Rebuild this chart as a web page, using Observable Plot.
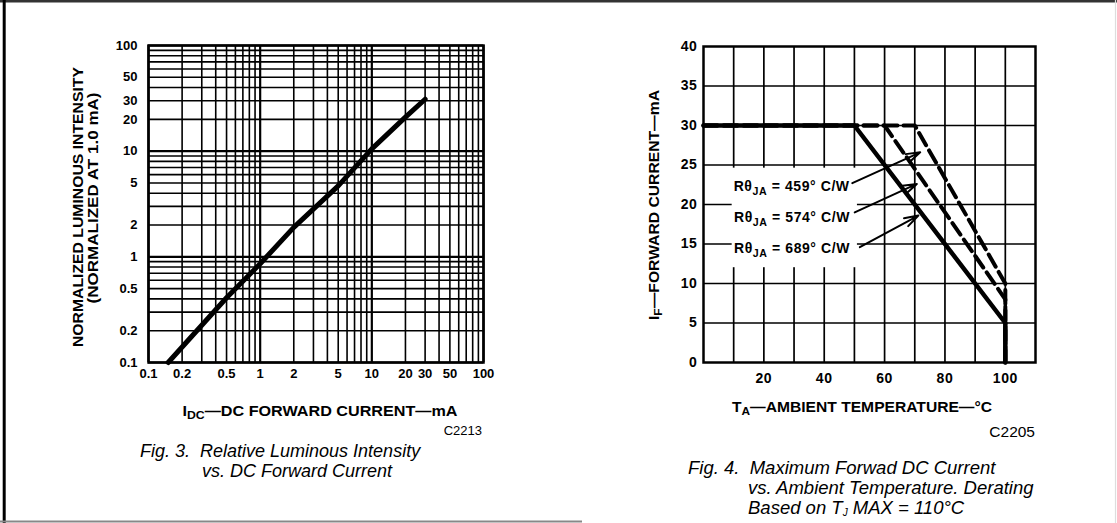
<!DOCTYPE html>
<html><head><meta charset="utf-8">
<script src="https://cdn.jsdelivr.net/npm/d3@7"></script>
<script src="https://cdn.jsdelivr.net/npm/@observablehq/plot@0.6"></script>
<style>
body{margin:0;background:#fff;}
#page{position:relative;width:1117px;height:523px;overflow:hidden;background:#fff;font-family:"Liberation Sans",Arial,sans-serif;}
#page > svg{position:absolute;max-width:none;}
</style></head><body><div id="page"></div>
<script>
// ---------- Fig. 3 data ----------
const fig3Current   = [0.15, 0.5, 1, 2, 5, 10, 20, 30];
const fig3Intensity = [0.1, 0.41, 0.86, 1.9, 4.7, 10.5, 21, 31];
const fig3Ticks     = [0.1, 0.2, 0.5, 1, 2, 5, 10, 20, 30, 50, 100];
const fig3Decades   = [0.1, 1, 10, 100];
const fig3Minor     = [0.2,0.3,0.4,0.5,0.6,0.7,0.8,0.9, 2,3,4,5,6,7,8,9, 20,30,40,50,60,70,80,90];

// ---------- Fig. 4 data ----------
const fig4TempSolid = [0, 50, 100, 100];
const fig4CurrSolid = [30, 30, 5, 0];
const fig4Temp574   = [0, 60, 100, 100];
const fig4Curr574   = [30, 30, 8, 0];
const fig4Temp459   = [0, 70, 100, 100];
const fig4Curr459   = [30, 30, 10, 0];
const fig4XTicks    = [20, 40, 60, 80, 100];
const fig4YTicks    = [0, 5, 10, 15, 20, 25, 30, 35, 40];
const fig4GridX     = [10, 20, 30, 40, 50, 60, 70, 80, 90, 100];
const fig4GridY     = [5, 10, 15, 20, 25, 30, 35];
const fig4Labels    = ["459", "574", "689"];
const fig4LabelX    = [48.6, 48.7, 48.7];
const fig4LabelY    = [22.35, 18.4, 14.4];
const fig4ArrowX1   = [49.3, 50.1, 51.8];
const fig4ArrowY1   = [22.7, 19.0, 14.6];
const fig4ArrowX2   = [71.8, 70.7, 71.2];
const fig4ArrowY2   = [26.6, 22.6, 18.6];
const fig4Box       = {x1: 9.5, x2: 51, y1: 12, y2: 24.6};

const page = document.getElementById("page");
const FONT = "'Liberation Sans', Arial, sans-serif";

// ---------- Fig. 3 ----------
const fig3Data = fig3Current.map((c, i) => ({c, v: fig3Intensity[i]}));
const fig3 = Plot.plot({
  width: 520, height: 395,
  marginLeft: 148, marginRight: 37, marginTop: 45, marginBottom: 33,
  style: {fontFamily: FONT, color: "black", background: "transparent"},
  x: {type: "log", domain: [0.1, 100], axis: null},
  y: {type: "log", domain: [0.1, 100], axis: null},
  marks: [
    Plot.ruleX(fig3Minor, {stroke: "black", strokeWidth: 1.6}),
    Plot.ruleY(fig3Minor, {stroke: "black", strokeWidth: 1.6}),
    Plot.ruleX(fig3Decades, {stroke: "black", strokeWidth: 2.2}),
    Plot.ruleY(fig3Decades, {stroke: "black", strokeWidth: 2.2}),
    Plot.line(fig3Data, {x: "c", y: "v", stroke: "black", strokeWidth: 5}),
    Plot.frame({stroke: "black", strokeWidth: 2.5}),
    Plot.text(fig3Ticks, {x: d => d, text: d => String(d), frameAnchor: "bottom", lineAnchor: "top", dy: 6,
      fontSize: 13, fontWeight: "bold", fill: "black"}),
    Plot.text(fig3Ticks, {y: d => d, text: d => String(d), frameAnchor: "left", textAnchor: "end", dx: -11,
      fontSize: 13, fontWeight: "bold", fill: "black"})
  ]
});
fig3.style.left = "0px"; fig3.style.top = "0px";
page.appendChild(fig3);

// ---------- Fig. 4 ----------
const mk = (xs, ys) => xs.map((t, i) => ({t, c: ys[i]}));
const arrows = fig4Labels.map((l, i) => ({x1: fig4ArrowX1[i], y1: fig4ArrowY1[i], x2: fig4ArrowX2[i], y2: fig4ArrowY2[i]}));
const fig4 = Plot.plot({
  width: 500, height: 395,
  marginLeft: 143, marginRight: 25, marginTop: 46, marginBottom: 33,
  style: {fontFamily: FONT, color: "black", background: "transparent", letterSpacing: "0.6px"},
  x: {domain: [0, 110], axis: null},
  y: {domain: [0, 40], axis: null},
  marks: [
    Plot.ruleX(fig4GridX, {stroke: "black", strokeWidth: 1.7}),
    Plot.ruleY(fig4GridY, {stroke: "black", strokeWidth: 1.7}),
    Plot.rect([fig4Box], {x1: "x1", x2: "x2", y1: "y1", y2: "y2", fill: "white"}),
    Plot.line(mk(fig4Temp459, fig4Curr459), {x: "t", y: "c", stroke: "black", strokeWidth: 4, strokeDasharray: "14,6"}),
    Plot.line(mk(fig4Temp574, fig4Curr574), {x: "t", y: "c", stroke: "black", strokeWidth: 4, strokeDasharray: "14,6"}),
    Plot.line(mk(fig4TempSolid, fig4CurrSolid), {x: "t", y: "c", stroke: "black", strokeWidth: 4.5}),
    Plot.arrow(arrows, {x1: "x1", y1: "y1", x2: "x2", y2: "y2", stroke: "black", strokeWidth: 2, headLength: 11, headAngle: 35}),
    Plot.frame({stroke: "black", strokeWidth: 2.5}),
    Plot.text(fig4XTicks, {x: d => d, text: d => String(d), frameAnchor: "bottom", lineAnchor: "top", dy: 11,
      fontSize: 14, fontWeight: "bold", fill: "black"}),
    Plot.text(fig4YTicks, {y: d => d, text: d => String(d), frameAnchor: "left", textAnchor: "end", dx: -6,
      fontSize: 14, fontWeight: "bold", fill: "black"})
  ]
});
fig4.style.left = "560px"; fig4.style.top = "0px";
page.appendChild(fig4);

// Rθ labels placed through the plot's own scales
{
  const sx = fig4.scale("x"), sy = fig4.scale("y");
  const g = d3.select(fig4).append("g")
    .attr("font-size", 14.5).attr("font-weight", "bold").attr("text-anchor", "end");
  fig4Labels.forEach((v, i) => {
    const t = g.append("text").attr("x", sx.apply(fig4LabelX[i])).attr("y", sy.apply(fig4LabelY[i])).attr("dy", "0.36em")
      .attr("textLength", 116).attr("lengthAdjust", "spacingAndGlyphs");
    t.append("tspan").text("R\u03B8");
    t.append("tspan").attr("font-size", 11).attr("dy", 4).text("JA");
    t.append("tspan").attr("dy", -4).text(" = " + v + "\u00B0 C/W");
  });
}

// ---------- titles, captions, frame ----------
const ov = d3.select(page).append("svg")
  .attr("width", 1117).attr("height", 523)
  .style("left", "0px").style("top", "0px").style("pointer-events", "none")
  .attr("font-family", FONT);

ov.append("line").attr("x1", 0).attr("x2", 1117).attr("y1", 1.2).attr("y2", 1.2).attr("stroke", "#333").attr("stroke-width", 2.4);
ov.append("line").attr("x1", 4.2).attr("x2", 4.2).attr("y1", 0).attr("y2", 523).attr("stroke", "#000").attr("stroke-width", 3);
ov.append("line").attr("x1", 0).attr("x2", 582).attr("y1", 521.5).attr("y2", 521.5).attr("stroke", "#888").attr("stroke-width", 2);
ov.append("line").attr("x1", 1115.5).attr("x2", 1115.5).attr("y1", 0).attr("y2", 523).attr("stroke", "#ddd").attr("stroke-width", 1.2);

function subText(x, y, main, sub, rest, size, subSize, opts = {}) {
  const t = ov.append("text").attr("x", x).attr("y", y)
    .attr("font-size", size).attr("font-weight", opts.weight || "bold")
    .attr("text-anchor", opts.anchor || "middle").style("white-space", "pre");
  if (opts.italic) t.attr("font-style", "italic");
  if (opts.transform) t.attr("transform", opts.transform);
  if (opts.length) t.attr("textLength", opts.length).attr("lengthAdjust", "spacingAndGlyphs");
  t.append("tspan").text(main);
  t.append("tspan").attr("font-size", subSize).attr("dy", opts.shift || 3).text(sub);
  t.append("tspan").attr("dy", -(opts.shift || 3)).text(rest);
  return t;
}
function plain(x, y, str, size, opts = {}) {
  const t = ov.append("text").attr("x", x).attr("y", y).attr("font-size", size)
    .attr("font-weight", opts.weight || "normal").attr("text-anchor", opts.anchor || "start")
    .style("white-space", "pre").text(str);
  if (opts.italic) t.attr("font-style", "italic");
  if (opts.transform) t.attr("transform", opts.transform);
  if (opts.length) t.attr("textLength", opts.length).attr("lengthAdjust", "spacingAndGlyphs");
  return t;
}

// Fig. 3 titles
plain(0, 0, "NORMALIZED LUMINOUS INTENSITY", 14.5, {weight: "bold", anchor: "middle", length: 280, transform: "translate(83,207) rotate(-90)"});
plain(0, 0, "(NORMALIZED AT 1.0 mA)", 14.5, {weight: "bold", anchor: "middle", length: 211, transform: "translate(98,198) rotate(-90)"});
subText(320, 416, "I", "DC", "\u2014DC FORWARD CURRENT\u2014mA", 14.5, 11, {length: 275});
plain(482, 435, "C2213", 13, {anchor: "end"});
plain(140, 457, "Fig. 3.  Relative Luminous Intensity", 18, {italic: true});
plain(202, 477, "vs. DC Forward Current", 18, {italic: true});

// Fig. 4 titles
subText(0, 0, "I", "F", "\u2014FORWARD CURRENT\u2014mA", 14.5, 11, {length: 230, transform: "translate(659,205) rotate(-90)"});
subText(862, 412, "T", "A", "\u2014AMBIENT TEMPERATURE\u2014\u00B0C", 14.5, 11, {length: 260});
plain(1035, 437, "C2205", 15.5, {anchor: "end"});
plain(688, 474, "Fig. 4.  Maximum Forwad DC Current", 18.5, {italic: true});
plain(748, 494, "vs. Ambient Temperature. Derating", 18.5, {italic: true});
subText(748, 514, "Based on T", "J", " MAX = 110\u00B0C", 18.5, 10, {weight: "normal", italic: true, anchor: "start", shift: 2});
</script>
</body></html>
